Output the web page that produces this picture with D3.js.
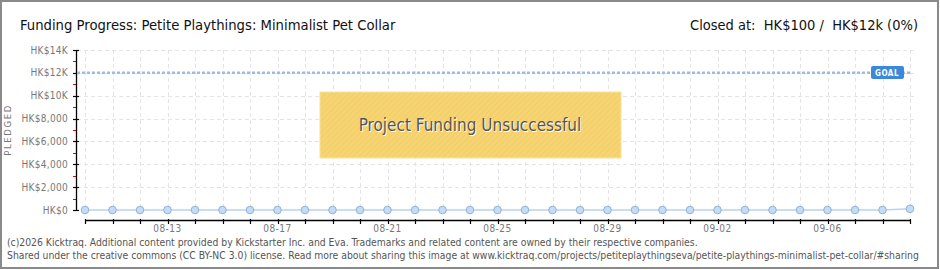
<!DOCTYPE html>
<html>
<head>
<meta charset="utf-8">
<script src="https://cdn.jsdelivr.net/npm/d3@7"></script>
<style>
  body { margin: 0; background: #fff; }
  svg { display: block; }
</style>
</head>
<body>
<div id="chart"></div>
<script>
// data
var dates = ["08-10","08-11","08-12","08-13","08-14","08-15","08-16","08-17","08-18","08-19",
             "08-20","08-21","08-22","08-23","08-24","08-25","08-26","08-27","08-28","08-29",
             "08-30","08-31","09-01","09-02","09-03","09-04","09-05","09-06","09-07","09-08","09-09"];
var pledged = [0,0,0,0,0,0,0,0,0,0,0,0,0,0,0,0,0,0,0,0,0,0,0,0,0,0,0,0,0,0,100];
var dateLabels = ["08-13","08-17","08-21","08-25","08-29","09-02","09-06"];
var yTicks = [0, 2000, 4000, 6000, 8000, 10000, 12000, 14000];
var yTickLabels = ["HK$0","HK$2,000","HK$4,000","HK$6,000","HK$8,000","HK$10K","HK$12K","HK$14K"];
var goal = 12000;

(function() {
    var W = 940, H = 270;
    var svg = d3.select('#chart').append('svg').attr('width', W).attr('height', H);
    var font = '"DejaVu Sans Condensed", "DejaVu Sans", sans-serif';

    // frame
    svg.append('rect').attr('x', 1).attr('y', 1).attr('width', W - 3).attr('height', H - 3)
        .attr('fill', '#fff').attr('stroke', '#8a8a8a').attr('stroke-width', 2);

    var x = d3.scalePoint().domain(dates).range([85, 910]);
    var y = d3.scaleLinear().domain([0, 14000]).range([210, 50]);

    var g = svg.append('g');

    // grid
    g.selectAll('.vgrid').data(dates).enter().append('line')
        .attr('x1', function(d) { return Math.round(x(d)) + 0.5; })
        .attr('x2', function(d) { return Math.round(x(d)) + 0.5; })
        .attr('y1', 50).attr('y2', 214)
        .attr('stroke', '#e4e4e4').attr('stroke-dasharray', '4,3');
    g.selectAll('.hgrid').data(yTicks.slice(1)).enter().append('line')
        .attr('x1', 77).attr('x2', 915)
        .attr('y1', function(d) { return Math.round(y(d)) + 0.5; })
        .attr('y2', function(d) { return Math.round(y(d)) + 0.5; })
        .attr('stroke', '#e4e4e4').attr('stroke-dasharray', '4,3');

    // y axis
    g.append('line').attr('x1', 76.5).attr('x2', 76.5).attr('y1', 50).attr('y2', 210)
        .attr('stroke', '#000').attr('stroke-width', 1.3);
    var minor = d3.range(1000, 14000, 2000);
    g.selectAll('.ymin').data(minor).enter().append('line')
        .attr('x1', 73).attr('x2', 76)
        .attr('y1', function(d) { return Math.round(y(d)) + 0.5; })
        .attr('y2', function(d) { return Math.round(y(d)) + 0.5; })
        .attr('stroke', '#d00');
    g.selectAll('.ymaj').data(yTicks).enter().append('line')
        .attr('x1', 73).attr('x2', 79)
        .attr('y1', function(d) { return Math.round(y(d)) + 0.5; })
        .attr('y2', function(d) { return Math.round(y(d)) + 0.5; })
        .attr('stroke', '#000').attr('stroke-width', 1.2);
    g.selectAll('.ylab').data(yTicks).enter().append('text')
        .attr('x', 68).attr('y', function(d) { return y(d) + 3.5; })
        .attr('text-anchor', 'end').attr('fill', '#777')
        .style('font', '10px ' + font).style('letter-spacing', '0.3px')
        .text(function(d, i) { return yTickLabels[i]; });
    svg.append('text').attr('transform', 'translate(11,130) rotate(-90)')
        .attr('text-anchor', 'middle').attr('fill', '#777')
        .style('font', '9.5px ' + font).style('letter-spacing', '1.6px')
        .text('PLEDGED');

    // x axis
    g.append('line').attr('x1', 85).attr('x2', 911).attr('y1', 220.5).attr('y2', 220.5)
        .attr('stroke', '#000').attr('stroke-width', 1.3);
    g.selectAll('.xt').data(dates).enter().append('line')
        .attr('x1', function(d) { return Math.round(x(d)) + 0.5; })
        .attr('x2', function(d) { return Math.round(x(d)) + 0.5; })
        .attr('y1', 219).attr('y2', 224)
        .attr('stroke', '#000').attr('stroke-width', 1.2);
    g.selectAll('.xl').data(dateLabels).enter().append('text')
        .attr('x', function(d) { return x(d); }).attr('y', 232)
        .attr('text-anchor', 'middle').attr('fill', '#777')
        .style('font', '10px ' + font).style('letter-spacing', '0.5px')
        .text(function(d) { return d; });

    // goal line
    g.append('line').attr('x1', 77).attr('x2', 912)
        .attr('y1', y(goal)).attr('y2', y(goal))
        .attr('stroke', '#9dbbe3').attr('stroke-width', 2.5).attr('stroke-dasharray', '3,2');
    g.append('rect').attr('x', 871).attr('y', 66).attr('width', 33).attr('height', 13).attr('rx', 2)
        .attr('fill', '#3b87d8');
    g.append('text').attr('x', 887).attr('y', 76).attr('text-anchor', 'middle')
        .attr('fill', '#fff').style('font', 'bold 8px ' + font).style('letter-spacing', '0.5px')
        .text('GOAL');

    // pledged line and points
    var line = d3.line().x(function(d, i) { return x(dates[i]); }).y(function(d) { return y(d); });
    g.append('path').datum(pledged).attr('d', line)
        .attr('fill', 'none').attr('stroke', '#b5d5f3').attr('stroke-width', 1.5);
    g.selectAll('.pt').data(pledged).enter().append('circle')
        .attr('cx', function(d, i) { return x(dates[i]); })
        .attr('cy', function(d) { return y(d); })
        .attr('r', 3.8)
        .attr('fill', '#c3dcf7').attr('stroke', '#93b1d3').attr('stroke-width', 1);

    // unsuccessful banner
    var defs = svg.append('defs');
    var pat = defs.append('pattern').attr('id', 'stripes').attr('width', 4).attr('height', 4)
        .attr('patternUnits', 'userSpaceOnUse').attr('patternTransform', 'rotate(45)');
    pat.append('rect').attr('width', 4).attr('height', 4).attr('fill', '#f7d472');
    pat.append('line').attr('x1', 0).attr('x2', 0).attr('y1', 0).attr('y2', 4)
        .attr('stroke', '#efcb6a').attr('stroke-width', 1.5);
    svg.append('rect').attr('x', 320).attr('y', 92).attr('width', 301).attr('height', 66)
        .attr('fill', 'url(#stripes)').attr('stroke', '#fae29a').attr('stroke-width', 1);
    svg.append('text').attr('x', 471).attr('y', 132).attr('text-anchor', 'middle')
        .attr('fill', '#fff').style('font', '17px ' + font)
        .text('Project Funding Unsuccessful');
    svg.append('text').attr('x', 470).attr('y', 131).attr('text-anchor', 'middle')
        .attr('fill', '#555').style('font', '17px ' + font)
        .text('Project Funding Unsuccessful');

    // titles
    svg.append('text').attr('x', 20).attr('y', 30).attr('fill', '#111')
        .style('font', '14.7px ' + font)
        .text('Funding Progress: Petite Playthings: Minimalist Pet Collar');
    svg.append('text').attr('x', 918).attr('y', 30).attr('text-anchor', 'end').attr('fill', '#111')
        .style('font', '14.5px ' + font).style('white-space', 'pre')
        .text('Closed at:  HK$100 /  HK$12k (0%)');

    // footer
    svg.append('text').attr('x', 7).attr('y', 246).attr('fill', '#555')
        .style('font', '10.3px ' + font)
        .text('(c)2026 Kicktraq. Additional content provided by Kickstarter Inc. and Eva. Trademarks and related content are owned by their respective companies.');
    svg.append('text').attr('x', 7).attr('y', 259).attr('fill', '#555')
        .style('font', '10.3px ' + font)
        .text('Shared under the creative commons (CC BY-NC 3.0) license. Read more about sharing this image at www.kicktraq.com/projects/petiteplaythingseva/petite-playthings-minimalist-pet-collar/#sharing');
})();
</script>
</body>
</html>
